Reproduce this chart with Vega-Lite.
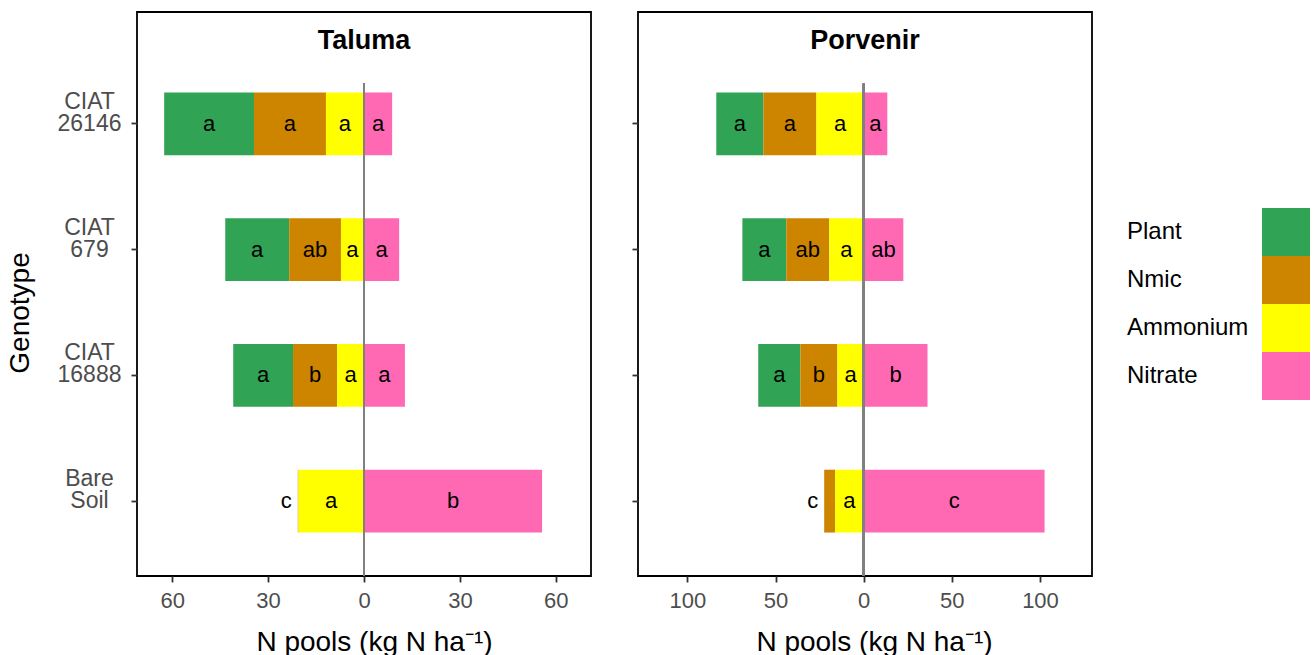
{
  "$schema": "https://vega.github.io/schema/vega-lite/v6.json",
  "background": "white",
  "padding": {"left": 5, "top": 11, "right": 0, "bottom": 0},
  "config": {
    "font": "Liberation Sans",
    "view": {"stroke": "black", "strokeWidth": 1.8},
    "axis": {"grid": false, "domain": false, "tickColor": "#333333", "tickWidth": 1.8, "tickSize": 6,
             "labelColor": "#4d4d4d", "labelFont": "Liberation Sans", "labelFontSize": 22,
             "titleFont": "Liberation Sans", "titleFontSize": 27, "titleFontWeight": "normal", "titleColor": "black"},
    "legend": {"padding": 0, "title": null,
               "labelFont": "Liberation Sans", "labelFontSize": 24, "labelColor": "black",
               "symbolType": "square", "symbolSize": 2304, "symbolStrokeWidth": 0, "symbolOpacity": 1,
               "rowPadding": 0, "symbolOffset": 135, "labelOffset": -183, "labelAlign": "left"}
  },
  "datasets": {
    "pools": [
      {"site": "Taluma", "genotype": "CIAT 26146", "pool": "Plant", "value": -28.1, "letter": "a"},
      {"site": "Taluma", "genotype": "CIAT 26146", "pool": "Nmic", "value": -22.5, "letter": "a"},
      {"site": "Taluma", "genotype": "CIAT 26146", "pool": "Ammonium", "value": -11.9, "letter": "a"},
      {"site": "Taluma", "genotype": "CIAT 26146", "pool": "Nitrate", "value": 8.8, "letter": "a"},
      {"site": "Taluma", "genotype": "CIAT 679", "pool": "Plant", "value": -20.0, "letter": "a"},
      {"site": "Taluma", "genotype": "CIAT 679", "pool": "Nmic", "value": -16.2, "letter": "ab"},
      {"site": "Taluma", "genotype": "CIAT 679", "pool": "Ammonium", "value": -7.2, "letter": "a"},
      {"site": "Taluma", "genotype": "CIAT 679", "pool": "Nitrate", "value": 11.0, "letter": "a"},
      {"site": "Taluma", "genotype": "CIAT 16888", "pool": "Plant", "value": -18.7, "letter": "a"},
      {"site": "Taluma", "genotype": "CIAT 16888", "pool": "Nmic", "value": -13.8, "letter": "b"},
      {"site": "Taluma", "genotype": "CIAT 16888", "pool": "Ammonium", "value": -8.4, "letter": "a"},
      {"site": "Taluma", "genotype": "CIAT 16888", "pool": "Nitrate", "value": 12.8, "letter": "a"},
      {"site": "Taluma", "genotype": "Bare Soil", "pool": "Nmic", "value": -0.2, "letter": "c"},
      {"site": "Taluma", "genotype": "Bare Soil", "pool": "Ammonium", "value": -20.5, "letter": "a"},
      {"site": "Taluma", "genotype": "Bare Soil", "pool": "Nitrate", "value": 55.7, "letter": "b"},
      {"site": "Porvenir", "genotype": "CIAT 26146", "pool": "Plant", "value": -26.7, "letter": "a"},
      {"site": "Porvenir", "genotype": "CIAT 26146", "pool": "Nmic", "value": -30.1, "letter": "a"},
      {"site": "Porvenir", "genotype": "CIAT 26146", "pool": "Ammonium", "value": -26.8, "letter": "a"},
      {"site": "Porvenir", "genotype": "CIAT 26146", "pool": "Nitrate", "value": 13.4, "letter": "a"},
      {"site": "Porvenir", "genotype": "CIAT 679", "pool": "Plant", "value": -24.9, "letter": "a"},
      {"site": "Porvenir", "genotype": "CIAT 679", "pool": "Nmic", "value": -24.4, "letter": "ab"},
      {"site": "Porvenir", "genotype": "CIAT 679", "pool": "Ammonium", "value": -19.5, "letter": "a"},
      {"site": "Porvenir", "genotype": "CIAT 679", "pool": "Nitrate", "value": 22.5, "letter": "ab"},
      {"site": "Porvenir", "genotype": "CIAT 16888", "pool": "Plant", "value": -23.9, "letter": "a"},
      {"site": "Porvenir", "genotype": "CIAT 16888", "pool": "Nmic", "value": -21.0, "letter": "b"},
      {"site": "Porvenir", "genotype": "CIAT 16888", "pool": "Ammonium", "value": -14.9, "letter": "a"},
      {"site": "Porvenir", "genotype": "CIAT 16888", "pool": "Nitrate", "value": 36.2, "letter": "b"},
      {"site": "Porvenir", "genotype": "Bare Soil", "pool": "Nmic", "value": -6.2, "letter": "c"},
      {"site": "Porvenir", "genotype": "Bare Soil", "pool": "Ammonium", "value": -16.2, "letter": "a"},
      {"site": "Porvenir", "genotype": "Bare Soil", "pool": "Nitrate", "value": 102.6, "letter": "c"}
    ]
  },
  "resolve": {"scale": {"x": "independent", "y": "independent", "color": "shared"}},
  "spacing": 38,
  "hconcat": [
    {
      "width": 454, "height": 564,
      "title": {"text": "Taluma", "frame": "group", "anchor": "middle", "offset": -64, "baseline": "alphabetic",
                "font": "Liberation Sans", "fontSize": 27, "fontWeight": "bold", "color": "black"},
      "data": {"name": "pools"},
      "transform": [
        {"filter": "datum.site == 'Taluma'"},
        {"calculate": "indexof(['Ammonium','Nmic','Plant','Nitrate'], datum.pool)", "as": "ord"},
        {"stack": "value", "groupby": ["genotype"], "sort": [{"field": "ord", "order": "ascending"}], "as": ["x0", "x1"]},
        {"calculate": "(datum.x0 + datum.x1) / 2", "as": "mid"}
      ],
      "encoding": {
        "y": {"field": "genotype", "type": "nominal",
              "scale": {"domain": ["CIAT 26146", "CIAT 679", "CIAT 16888", "Bare Soil"], "range": [49, 552], "paddingInner": 0.5, "paddingOuter": 0.25},
              "axis": {"title": "Genotype", "titleFontSize": 28, "titlePadding": 23, "labelExpr": "split(datum.label, ' ')",
                       "labelAlign": "center", "labelPadding": 42, "labelFontSize": 23, "labelLineHeight": 22, "labelBaseline": "middle", "labelOffset": -22}}
      },
      "layer": [
        {"mark": {"type": "bar"},
         "encoding": {
           "x": {"field": "x0", "type": "quantitative", "scale": {"domain": [-71, 71], "nice": false, "zero": false},
                 "axis": {"values": [-60, -30, 0, 30, 60], "labelExpr": "abs(datum.value)", "title": "N pools (kg N ha⁻¹)", "titleFontSize": 28, "titleX": 237, "labelPadding": 8, "titlePadding": 17}},
           "x2": {"field": "x1"},
           "color": {"field": "pool", "type": "nominal",
                     "scale": {"domain": ["Plant", "Nmic", "Ammonium", "Nitrate"], "range": ["#31a354", "#cd8500", "#ffff00", "#ff69b4"]},
                     "legend": {"orient": "none", "legendX": 990, "legendY": 196}}
         }},
        {"mark": {"type": "rule", "color": "#808080", "strokeWidth": 2},
         "encoding": {"x": {"datum": 0, "type": "quantitative"},
                      "y": {"datum": "CIAT 26146", "type": "nominal", "bandPosition": -0.14},
                      "y2": {"datum": "Bare Soil", "bandPosition": 1.69}}},
        {"transform": [{"filter": "!(datum.genotype == 'Bare Soil' && datum.pool == 'Nmic')"}],
         "mark": {"type": "text", "font": "Liberation Sans", "fontSize": 22, "color": "black", "baseline": "middle"},
         "encoding": {"x": {"field": "mid", "type": "quantitative"}, "text": {"field": "letter"}}},
        {"transform": [{"filter": "datum.genotype == 'Bare Soil' && datum.pool == 'Nmic'"}],
         "mark": {"type": "text", "font": "Liberation Sans", "fontSize": 22, "color": "black", "baseline": "middle", "align": "right", "dx": -6},
         "encoding": {"x": {"field": "x1", "type": "quantitative"}, "text": {"field": "letter"}}}
      ]
    },
    {
      "width": 454, "height": 564,
      "title": {"text": "Porvenir", "frame": "group", "anchor": "middle", "offset": -64, "baseline": "alphabetic",
                "font": "Liberation Sans", "fontSize": 27, "fontWeight": "bold", "color": "black"},
      "data": {"name": "pools"},
      "transform": [
        {"filter": "datum.site == 'Porvenir'"},
        {"calculate": "indexof(['Ammonium','Nmic','Plant','Nitrate'], datum.pool)", "as": "ord"},
        {"stack": "value", "groupby": ["genotype"], "sort": [{"field": "ord", "order": "ascending"}], "as": ["x0", "x1"]},
        {"calculate": "(datum.x0 + datum.x1) / 2", "as": "mid"}
      ],
      "encoding": {
        "y": {"field": "genotype", "type": "nominal",
              "scale": {"domain": ["CIAT 26146", "CIAT 679", "CIAT 16888", "Bare Soil"], "range": [49, 552], "paddingInner": 0.5, "paddingOuter": 0.25},
              "axis": {"title": null, "labels": false}}
      },
      "layer": [
        {"mark": {"type": "bar"},
         "encoding": {
           "x": {"field": "x0", "type": "quantitative", "scale": {"domain": [-128, 129.5], "nice": false, "zero": false},
                 "axis": {"values": [-100, -50, 0, 50, 100], "labelExpr": "abs(datum.value)", "title": "N pools (kg N ha⁻¹)", "titleFontSize": 28, "titleX": 236, "labelPadding": 8, "titlePadding": 17}},
           "x2": {"field": "x1"},
           "color": {"field": "pool", "type": "nominal",
                     "scale": {"domain": ["Plant", "Nmic", "Ammonium", "Nitrate"], "range": ["#31a354", "#cd8500", "#ffff00", "#ff69b4"]},
                     "legend": {"orient": "none", "legendX": 990, "legendY": 196}}
         }},
        {"mark": {"type": "rule", "color": "#808080", "strokeWidth": 2},
         "encoding": {"x": {"datum": 0, "type": "quantitative"},
                      "y": {"datum": "CIAT 26146", "type": "nominal", "bandPosition": -0.14},
                      "y2": {"datum": "Bare Soil", "bandPosition": 1.69}}},
        {"transform": [{"filter": "!(datum.genotype == 'Bare Soil' && datum.pool == 'Nmic')"}],
         "mark": {"type": "text", "font": "Liberation Sans", "fontSize": 22, "color": "black", "baseline": "middle"},
         "encoding": {"x": {"field": "mid", "type": "quantitative"}, "text": {"field": "letter"}}},
        {"transform": [{"filter": "datum.genotype == 'Bare Soil' && datum.pool == 'Nmic'"}],
         "mark": {"type": "text", "font": "Liberation Sans", "fontSize": 22, "color": "black", "baseline": "middle", "align": "right", "dx": -6},
         "encoding": {"x": {"field": "x1", "type": "quantitative"}, "text": {"field": "letter"}}}
      ]
    }
  ]
}
